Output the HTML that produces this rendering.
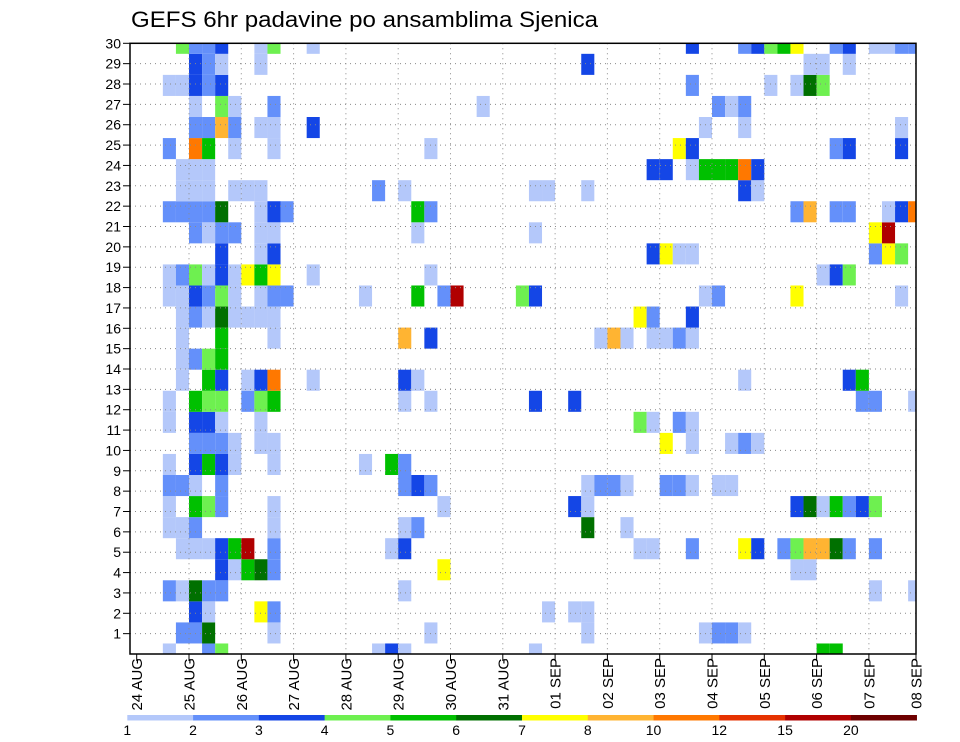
<!DOCTYPE html>
<html>
<head>
<meta charset="utf-8">
<style>
  html,body{margin:0;padding:0;background:#fff;}
  svg{display:block;font-family:"Liberation Sans",sans-serif;}
</style>
</head>
<body>
<svg id="chart" width="960" height="742" viewBox="0 0 960 742" xmlns="http://www.w3.org/2000/svg">
  <text x="131" y="27" font-size="22" textLength="467" lengthAdjust="spacingAndGlyphs" fill="#000">GEFS 6hr padavine po ansamblima Sjenica</text>
  <defs><clipPath id="plotclip"><rect x="130" y="43.3" width="786" height="610.7"/></clipPath></defs>
  <g id="cells" clip-path="url(#plotclip)"></g>
  <g id="grid"></g>
  <rect x="130" y="43.3" width="786" height="610.7" fill="none" stroke="#000" stroke-width="1.5"/>
  <g id="yaxis"></g>
  <g id="xaxis"></g>
  <g id="legend"></g>
</svg>
<script>
// ---- data ----
const dayLabels = ["24 AUG","25 AUG","26 AUG","27 AUG","28 AUG","29 AUG","30 AUG","31 AUG","01 SEP","02 SEP","03 SEP","04 SEP","05 SEP","06 SEP","07 SEP","08 SEP"];
const yTickLabels = [1,2,3,4,5,6,7,8,9,10,11,12,13,14,15,16,17,18,19,20,21,22,23,24,25,26,27,28,29,30];
const levelBounds = [1,2,3,4,5,6,7,8,10,12,15,20];
const levelColors = ["#b4c8fa","#6490fa","#1446e6","#6ef050","#00c000","#007000","#ffff00","#ffb432","#ff7800","#e63200","#b00000","#6e0000"];
// each member row: [6-hourly step index, precipitation mm]
const member0  = [[2,1.5],[5,2.5],[6,4.5],[18,1.5],[19,3.5],[20,1.5],[30,1.5],[52,5.5],[53,5.5]];
const member1  = [[3,2.5],[4,2.5],[5,6.5],[10,1.5],[22,1.5],[34,1.5],[43,1.5],[44,2.5],[45,2.5],[46,1.5]];
const member2  = [[4,3.5],[5,1.5],[9,7.5],[10,2.5],[31,1.5],[33,1.5],[34,1.5]];
const member3  = [[2,2.5],[3,1.5],[4,6.5],[5,2.5],[6,2.5],[20,1.5],[56,1.5],[59,1.5]];
const member4  = [[6,3.5],[7,1.5],[8,5.5],[9,6.5],[10,2.5],[23,7.5],[50,1.5],[51,1.5]];
const member5  = [[3,1.5],[4,1.5],[5,1.5],[6,3.5],[7,5.5],[8,17],[10,2.5],[19,1.5],[20,3.5],[38,1.5],[39,1.5],[42,2.5],[46,7.5],[47,3.5],[49,2.5],[50,4.5],[51,9],[52,9],[53,6.5],[54,2.5],[56,2.5]];
const member6  = [[2,1.5],[3,1.5],[4,2.5],[10,1.5],[20,1.5],[21,2.5],[34,6.5],[37,1.5]];
const member7  = [[2,1.5],[4,5.5],[5,4.5],[6,2.5],[10,1.5],[23,1.5],[33,3.5],[34,1.5],[50,3.5],[51,6.5],[52,1.5],[53,5.5],[54,2.5],[55,3.5],[56,4.5]];
const member8  = [[2,2.5],[3,2.5],[4,1.5],[6,2.5],[20,2.5],[21,3.5],[22,2.5],[34,1.5],[35,2.5],[36,2.5],[37,1.5],[40,2.5],[41,2.5],[42,1.5],[44,1.5],[45,1.5]];
const member9  = [[2,1.5],[4,3.5],[5,5.5],[6,3.5],[7,1.5],[10,1.5],[17,1.5],[19,5.5],[20,2.5]];
const member10 = [[4,2.5],[5,2.5],[6,2.5],[7,1.5],[9,1.5],[10,1.5],[40,7.5],[42,1.5],[45,1.5],[46,2.5],[47,1.5]];
const member11 = [[2,1.5],[4,3.5],[5,3.5],[6,1.5],[9,1.5],[38,4.5],[39,1.5],[41,2.5],[42,1.5]];
const member12 = [[2,1.5],[4,5.5],[5,4.5],[6,4.5],[8,2.5],[9,4.5],[10,5.5],[20,1.5],[22,1.5],[30,3.5],[33,3.5],[55,2.5],[56,2.5],[59,1.5]];
const member13 = [[3,1.5],[5,5.5],[6,3.5],[8,1.5],[9,3.5],[10,11],[13,1.5],[20,3.5],[21,1.5],[46,1.5],[54,3.5],[55,5.5]];
const member14 = [[3,1.5],[4,2.5],[5,4.5],[6,5.5]];
const member15 = [[3,1.5],[6,5.5],[10,1.5],[20,9],[22,3.5],[35,1.5],[36,9],[37,1.5],[39,1.5],[40,1.5],[41,2.5],[42,1.5]];
const member16 = [[3,1.5],[4,2.5],[5,1.5],[6,6.5],[7,1.5],[8,1.5],[9,1.5],[10,1.5],[38,7.5],[39,2.5],[42,3.5]];
const member17 = [[2,1.5],[3,1.5],[4,3.5],[5,2.5],[6,4.5],[7,1.5],[9,1.5],[10,2.5],[11,2.5],[17,1.5],[21,5.5],[23,2.5],[24,17],[29,4.5],[30,3.5],[43,1.5],[44,2.5],[50,7.5],[58,1.5]];
const member18 = [[2,1.5],[3,2.5],[4,4.5],[5,1.5],[6,3.5],[7,1.5],[8,7.5],[9,5.5],[10,7.5],[13,1.5],[22,1.5],[52,1.5],[53,3.5],[54,4.5]];
const member19 = [[6,3.5],[9,1.5],[10,3.5],[39,3.5],[40,7.5],[41,1.5],[42,1.5],[56,2.5],[57,7.5],[58,4.5]];
const member20 = [[4,2.5],[5,1.5],[6,2.5],[7,2.5],[9,1.5],[10,1.5],[21,1.5],[30,1.5],[56,7.5],[57,17]];
const member21 = [[2,2.5],[3,2.5],[4,2.5],[5,2.5],[6,6.5],[9,1.5],[10,3.5],[11,2.5],[21,5.5],[22,2.5],[50,2.5],[51,9],[53,2.5],[54,2.5],[57,1.5],[58,3.5],[59,11]];
const member22 = [[3,1.5],[4,1.5],[5,1.5],[7,1.5],[8,1.5],[9,1.5],[18,2.5],[20,1.5],[30,1.5],[31,1.5],[34,1.5],[46,3.5],[47,1.5]];
const member23 = [[3,1.5],[4,1.5],[5,1.5],[39,3.5],[40,3.5],[42,1.5],[43,5.5],[44,5.5],[45,5.5],[46,11],[47,3.5]];
const member24 = [[2,2.5],[4,11],[5,5.5],[7,1.5],[10,1.5],[22,1.5],[41,7.5],[42,3.5],[53,2.5],[54,3.5],[58,3.5]];
const member25 = [[4,2.5],[5,2.5],[6,9],[7,2.5],[9,1.5],[10,1.5],[13,3.5],[43,1.5],[46,1.5],[58,1.5]];
const member26 = [[4,1.5],[6,4.5],[7,1.5],[10,2.5],[26,1.5],[44,2.5],[45,1.5],[46,2.5]];
const member27 = [[2,1.5],[3,1.5],[4,3.5],[5,2.5],[6,3.5],[42,2.5],[48,1.5],[50,1.5],[51,6.5],[52,4.5]];
const member28 = [[4,3.5],[5,2.5],[6,1.5],[9,1.5],[34,3.5],[51,1.5],[52,1.5],[54,1.5]];
const member29 = [[3,4.5],[4,2.5],[5,2.5],[6,3.5],[9,1.5],[10,4.5],[13,1.5],[42,3.5],[46,2.5],[47,3.5],[48,4.5],[49,5.5],[50,7.5],[53,2.5],[54,3.5],[56,1.5],[57,1.5],[58,2.5],[59,2.5]];
const members = [member0,member1,member2,member3,member4,member5,member6,member7,member8,member9,member10,member11,member12,member13,member14,member15,member16,member17,member18,member19,member20,member21,member22,member23,member24,member25,member26,member27,member28,member29];

// ---- scales ----
const NS = "http://www.w3.org/2000/svg";
const X0 = 136.7, DAY = 52.3, STEP = DAY/4;
const PLOT_L = 130, PLOT_R = 916, PLOT_T = 43.3, PLOT_B = 654;
function xStep(k){ return X0 + k*STEP; }
function xDay(d){ return X0 + d*DAY; }
const MEMBER_H = (PLOT_B - PLOT_T)/29;
function yMember(j){ return PLOT_B - j*MEMBER_H; }
function yTick(v){ return PLOT_B - v*(PLOT_B-PLOT_T)/30; }
function colorFor(v){
  let idx = -1;
  for (let i=0;i<levelBounds.length;i++){ if (v >= levelBounds[i]) idx = i; }
  return idx < 0 ? null : levelColors[idx];
}
function mk(tag, attrs, parent){
  const el = document.createElementNS(NS, tag);
  for (const a in attrs) el.setAttribute(a, attrs[a]);
  parent.appendChild(el);
  return el;
}

// cells
const cellG = document.getElementById('cells');
members.forEach((row, j) => {
  row.forEach(([k, v]) => {
    const c = colorFor(v);
    if (!c) return;
    const r = mk('rect', {x: xStep(k), y: yMember(j) - MEMBER_H/2, width: STEP, height: MEMBER_H, fill: c}, cellG);
    
    
  });
});

// grid
const gridG = document.getElementById('grid');
for (let v=1; v<30; v++){
  const l = mk('line', {x1: PLOT_L, x2: PLOT_R, y1: yTick(v), y2: yTick(v), stroke: '#8a8a8a', 'stroke-width': 1, 'stroke-dasharray': '1 4'}, gridG);
  
  
}
for (let d=1; d<15; d++){
  const l = mk('line', {x1: xDay(d), x2: xDay(d), y1: PLOT_T, y2: PLOT_B, stroke: '#8a8a8a', 'stroke-width': 1, 'stroke-dasharray': '1 4'}, gridG);
  
  
}

// y axis
const yG = document.getElementById('yaxis');
yTickLabels.forEach(v => {
  const y = yTick(v);
  const t = mk('line', {x1: 123, x2: PLOT_L, y1: y, y2: y, stroke: '#000', 'stroke-width': 1}, yG);
  
  
  const tx = mk('text', {x: 121, y: y + 5, 'font-size': 14, 'text-anchor': 'end', fill: '#000'}, yG);
  tx.textContent = String(v);
  
  
});

// x axis
const xG = document.getElementById('xaxis');
dayLabels.forEach((lab, d) => {
  const x = d === 15 ? PLOT_R : xDay(d);
  const t = mk('line', {x1: x, x2: x, y1: PLOT_B, y2: PLOT_B + 7, stroke: '#000', 'stroke-width': 1}, xG);
  
  
  const tx = mk('text', {x: 0, y: 0, 'font-size': 15, 'text-anchor': 'end', fill: '#000',
    transform: 'translate(' + (x + 5.5) + ',658) rotate(-90)'}, xG);
  tx.textContent = lab;
  
  
});

// legend
const lgG = document.getElementById('legend');
const LG_X0 = 127.3, LG_W = 65.78;
levelColors.forEach((c, i) => {
  const r = mk('rect', {x: LG_X0 + i*LG_W, y: 715, width: LG_W + 0.3, height: 5.5, fill: c}, lgG);
  
  
});
levelBounds.forEach((b, i) => {
  const tx = mk('text', {x: LG_X0 + i*LG_W, y: 735, 'font-size': 14, 'text-anchor': 'middle', fill: '#000'}, lgG);
  tx.textContent = String(b);
  
  
});
</script>
</body>
</html>
